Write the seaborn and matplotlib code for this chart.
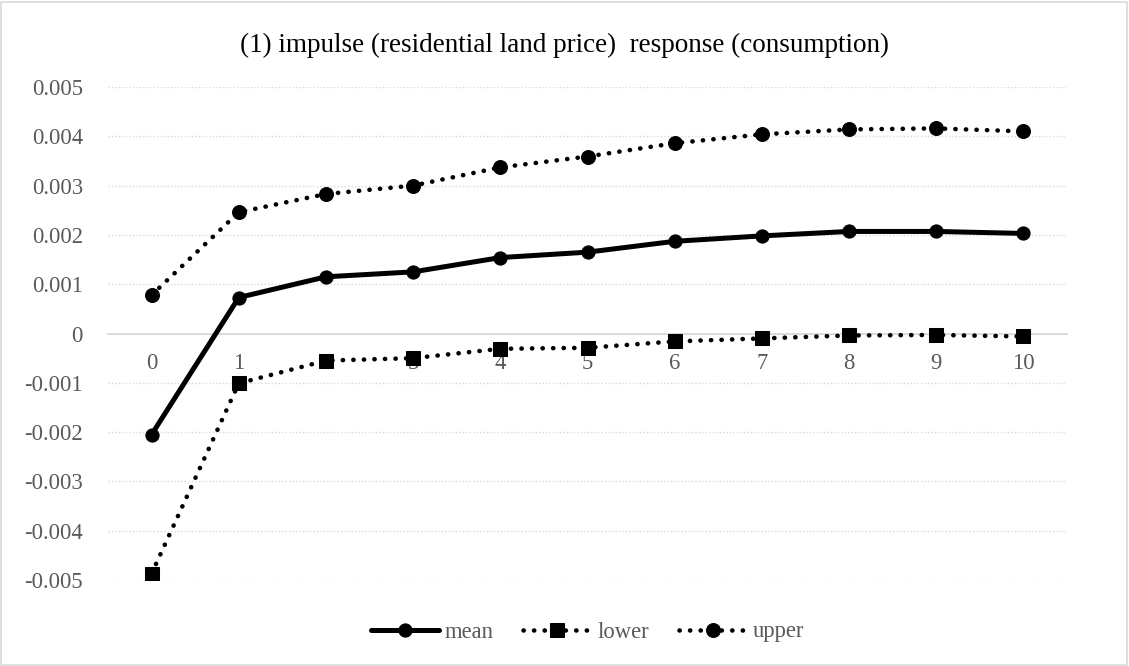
import matplotlib
matplotlib.use("Agg")
import matplotlib.pyplot as plt
import seaborn as sns
import numpy as np
import pandas as pd
from matplotlib.patches import Rectangle

periods = list(range(11))
mean = [-0.00205, 0.00073, 0.00115, 0.00125, 0.00154, 0.00165, 0.00187, 0.00198, 0.00207, 0.00207, 0.00203]
lower = [-0.00487, -0.00101, -0.00055, -0.00050, -0.00031, -0.00029, -0.00016, -0.00010, -0.00004, -0.00003, -0.00006]
upper = [0.00078, 0.00246, 0.00283, 0.00300, 0.00337, 0.00359, 0.00386, 0.00404, 0.00414, 0.00416, 0.00410]
yticks = [-0.005, -0.004, -0.003, -0.002, -0.001, 0, 0.001, 0.002, 0.003, 0.004, 0.005]
ytick_labels = ["-0.005", "-0.004", "-0.003", "-0.002", "-0.001", "0", "0.001", "0.002", "0.003", "0.004", "0.005"]
title = "(1) impulse (residential land price)  response (consumption)"

sns.set_theme(style="white")
plt.rcParams['font.family'] = ['Liberation Serif', 'DejaVu Serif']

fig = plt.figure(figsize=(11.29, 6.66), dpi=100)
ax = fig.add_axes([108/1129, 1 - 580/666, (1067-108)/1129, (580-87)/666])

sns.lineplot(x=periods, y=mean, ax=ax, color="black", lw=3.6, marker="o", markersize=9.5,
             markeredgecolor="black", label="mean", solid_capstyle="round")
sns.lineplot(x=periods, y=lower, ax=ax, color="black", lw=3.3, marker="s", markersize=9.5,
             markeredgecolor="black", label="lower")
sns.lineplot(x=periods, y=upper, ax=ax, color="black", lw=3.3, marker="o", markersize=10,
             markeredgecolor="black", label="upper")
for ln in ax.get_lines()[1:]:
    ln.set_linestyle((0, (0.05, 2.25)))
    ln.set_dash_capstyle("round")

ax.set_xlim(-0.5, 10.5)
ax.set_ylim(-0.005, 0.005)
ax.set_yticks(yticks)
ax.set_yticklabels(ytick_labels)
ax.set_xticks(periods)
ax.set_xticklabels([str(p) for p in periods])
ax.grid(axis="y", color="#d9d9d9", linestyle=(0, (1, 1.5)), lw=1)
ax.grid(axis="x", visible=False)
for s in ["top", "right", "left"]:
    ax.spines[s].set_visible(False)
ax.spines["bottom"].set_position(("data", 0))
ax.spines["bottom"].set_color("#d9d9d9")
ax.spines["bottom"].set_linewidth(1.3)
ax.spines["bottom"].set_zorder(0.5)
ax.tick_params(axis="both", length=0, labelsize=16.3, labelcolor="#595959")
ax.tick_params(axis="x", pad=14)
ax.tick_params(axis="y", pad=18)
ax.set_xlabel("")
ax.set_ylabel("")

fig.text(0.5, 1 - 45/666, title, ha="center", va="center", fontsize=19.5, color="black")

leg = ax.legend(loc="center", bbox_to_anchor=(0.5, (580 - 632) / (580 - 87)), ncol=3, frameon=False,
                fontsize=16.3, handlelength=3.0, columnspacing=1.3, handletextpad=0.27)
for t in leg.get_texts():
    t.set_color("#595959")

fig.patches.append(Rectangle((1/1129, 1/666), 1 - 3/1129, 1 - 3/666, transform=fig.transFigure,
                             fill=False, edgecolor="#d9d9d9", lw=1.2))

fig.savefig("out.png", dpi=100)
